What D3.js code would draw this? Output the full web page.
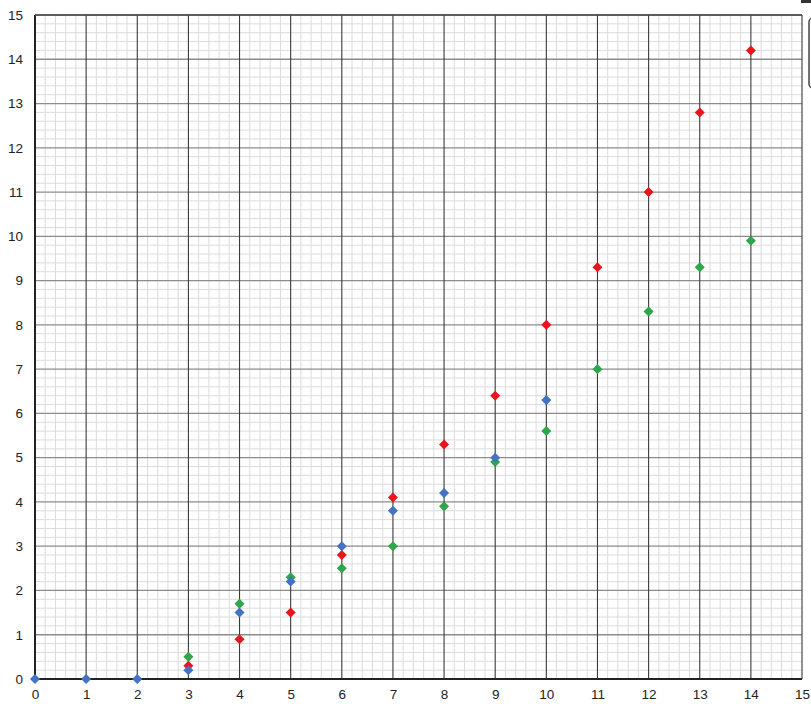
<!DOCTYPE html>
<html><head><meta charset="utf-8">
<script src="https://cdn.jsdelivr.net/npm/d3@7/dist/d3.min.js"></script>
<style>body{margin:0;background:#fff;}svg{display:block;}</style>
</head><body>
<script>
const blueX = [0,1,2,3,4,5,6,7,8,9,10];
const blueY = [0,0,0,0.2,1.5,2.2,3.0,3.8,4.2,5.0,6.3];
const redX = [3,4,5,6,7,8,9,10,11,12,13,14];
const redY = [0.3,0.9,1.5,2.8,4.1,5.3,6.4,8.0,9.3,11.0,12.8,14.2];
const greenX = [3,4,5,6,7,8,9,10,11,12,13,14];
const greenY = [0.5,1.7,2.3,2.5,3.0,3.9,4.9,5.6,7.0,8.3,9.3,9.9];
const ticks = d3.range(0,16);

const W=811,H=704;
const svg=d3.select("body").append("svg").attr("width",W).attr("height",H);
const x=d3.scaleLinear().domain([0,15]).range([35,802]);
const y=d3.scaleLinear().domain([0,15]).range([679,15]);

const minor=d3.range(0,15.01,0.2).map(v=>+v.toFixed(1)).filter(v=>Math.abs(v-Math.round(v))>1e-6);
const g=svg.append("g");
g.selectAll(".mx").data(minor).join("line").attr("x1",d=>x(d)).attr("x2",d=>x(d)).attr("y1",y(0)).attr("y2",y(15)).attr("stroke","#dcdcdc").attr("stroke-width",1);
g.selectAll(".my").data(minor).join("line").attr("y1",d=>y(d)).attr("y2",d=>y(d)).attr("x1",x(0)).attr("x2",x(15)).attr("stroke","#dcdcdc").attr("stroke-width",1);
g.selectAll(".My").data(ticks.slice(1)).join("line").attr("y1",d=>y(d)).attr("y2",d=>y(d)).attr("x1",x(0)).attr("x2",x(15)).attr("stroke","#8c8c8c").attr("stroke-width",1.3);
g.selectAll(".Mx").data(ticks.slice(1)).join("line").attr("x1",d=>x(d)).attr("x2",d=>x(d)).attr("y1",y(0)).attr("y2",y(15)).attr("stroke","#3a3a3a").attr("stroke-width",1.1);
g.append("line").attr("x1",x(0)).attr("x2",x(0)).attr("y1",y(0)).attr("y2",y(15)).attr("stroke","#222").attr("stroke-width",2);
g.append("line").attr("x1",x(0)).attr("x2",x(15)).attr("y1",y(0)).attr("y2",y(0)).attr("stroke","#222").attr("stroke-width",2);
g.append("line").attr("x1",x(0)).attr("x2",x(15)).attr("y1",y(15)).attr("y2",y(15)).attr("stroke","#444").attr("stroke-width",1.3);

const xa=svg.append("g").attr("transform",`translate(0,${y(0)})`).call(d3.axisBottom(x).tickValues(ticks).tickSize(0).tickPadding(10).tickFormat(d3.format("d")));
xa.select(".domain").remove();
const ya=svg.append("g").attr("transform",`translate(${x(0)},0)`).call(d3.axisLeft(y).tickValues(ticks).tickSize(0).tickPadding(12).tickFormat(d3.format("d")));
ya.select(".domain").remove();
svg.selectAll(".tick text").attr("font-family","Liberation Sans, Arial, sans-serif").attr("font-size",13.5).attr("fill","#222");

svg.append("rect").attr("x",809).attr("y",18).attr("width",30).attr("height",70).attr("rx",4).attr("fill","none").attr("stroke","#444").attr("stroke-width",1.5);
svg.append("rect").attr("x",801).attr("y",0).attr("width",10).attr("height",3).attr("fill","#333");

const sym=d3.symbol().type(d3.symbolDiamond2).size(64);
function series(xs,ys,color){
  svg.append("g").selectAll("path").data(xs.map((v,i)=>[v,ys[i]])).join("path")
    .attr("d",sym).attr("transform",d=>`translate(${x(d[0])},${y(d[1])})`).attr("fill",color);
}
series(greenX,greenY,"#2ea64a");
series(redX,redY,"#e8161c");
series(blueX,blueY,"#4472c4");
</script>
</body></html>
